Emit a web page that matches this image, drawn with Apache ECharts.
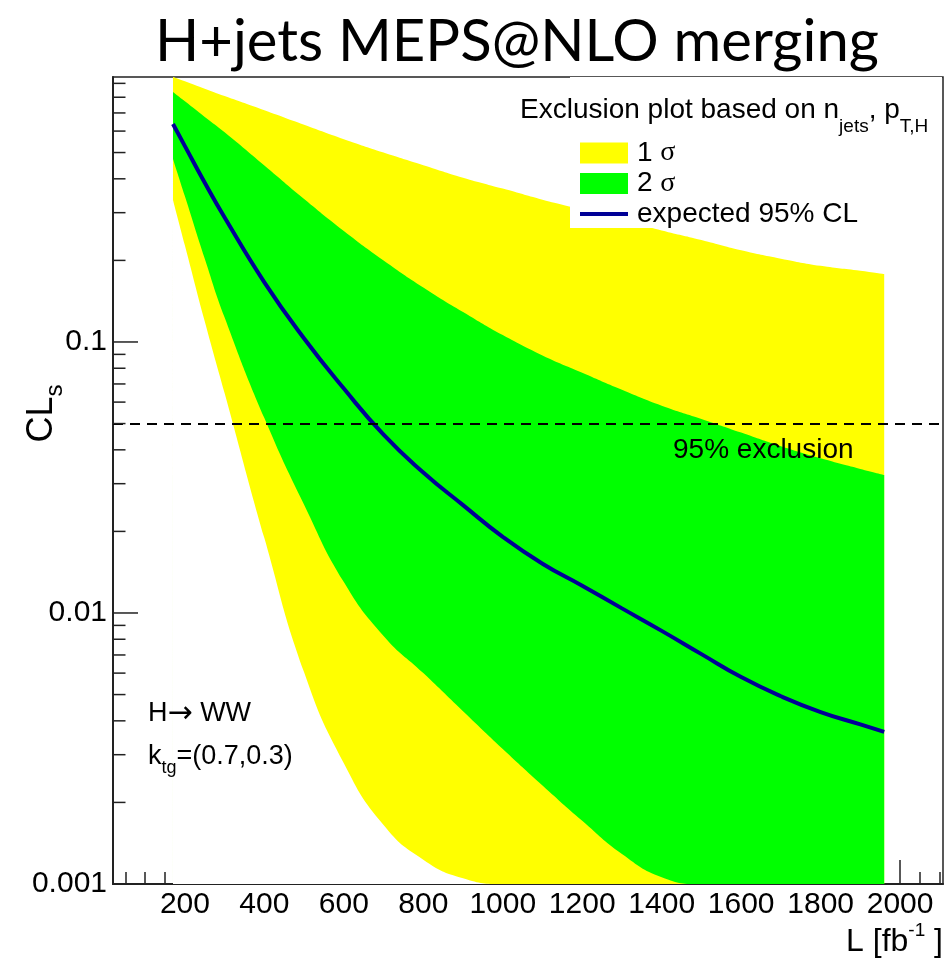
<!DOCTYPE html>
<html><head><meta charset="utf-8">
<script src="https://cdn.jsdelivr.net/npm/echarts@6/dist/echarts.min.js"></script>
<style>html,body{margin:0;padding:0;background:#fff}#c{width:948px;height:958px}</style>
</head><body><div id="c"></div>
<script>
// ---- data ----
const L_VALUES = [170, 200, 250, 300, 400, 500, 600, 700, 800, 900, 1000, 1100, 1200, 1300, 1400, 1500, 1600, 1700, 1800, 1900, 1960];
// outer band (legend "1 σ", yellow) upper edge
const OUTER_UP = [0.950, 0.916, 0.860, 0.808, 0.716, 0.633, 0.560, 0.500, 0.449, 0.404, 0.368, 0.335, 0.308, 0.282, 0.258, 0.238, 0.218, 0.203, 0.191, 0.183, 0.178];
// inner band (legend "2 σ", green) upper edge
const INNER_UP = [0.837, 0.773, 0.677, 0.594, 0.448, 0.337, 0.257, 0.200, 0.159, 0.129, 0.106, 0.0892, 0.0770, 0.0666, 0.0582, 0.0520, 0.0463, 0.0412, 0.0372, 0.0340, 0.0323];
// expected CLs
const EXPECTED_CL = [0.637, 0.528, 0.387, 0.288, 0.166, 0.103, 0.0673, 0.0455, 0.0330, 0.0250, 0.0191, 0.0152, 0.0126, 0.0104, 0.00859, 0.00705, 0.00580, 0.00493, 0.00431, 0.00388, 0.00364];
// inner band lower edge
const INNER_DOWN = [0.4735, 0.345, 0.203, 0.123, 0.0524, 0.0251, 0.0130, 0.00823, 0.00600, 0.00434, 0.00315, 0.00231, 0.00171, 0.00129, 0.00106, 0.001, 0.001, 0.001, 0.001, 0.001, 0.001];
// outer band lower edge
const OUTER_DOWN = [0.334, 0.227, 0.119, 0.0647, 0.0189, 0.00604, 0.00279, 0.00165, 0.00123, 0.00105, 0.001, 0.001, 0.001, 0.001, 0.001, 0.001, 0.001, 0.001, 0.001, 0.001, 0.001];
const EXCLUSION_LEVEL = 0.05;

const X_MIN = 19, X_MAX = 2108;
const Y_MIN = 0.001, Y_MAX = 0.95;
const X_MAJOR_TICKS = [200, 400, 600, 800, 1000, 1200, 1400, 1600, 1800, 2000];
const X_MINOR_TICKS = [50, 100, 150, 250, 300, 350, 450, 500, 550, 650, 700, 750, 850, 900, 950, 1050, 1100, 1150, 1250, 1300, 1350, 1450, 1500, 1550, 1650, 1700, 1750, 1850, 1900, 1950, 2050, 2100];
const Y_MAJOR_TICKS = [0.001, 0.01, 0.1];
const Y_MINOR_TICKS = [0.002, 0.003, 0.004, 0.005, 0.006, 0.007, 0.008, 0.009,
                       0.02, 0.03, 0.04, 0.05, 0.06, 0.07, 0.08, 0.09,
                       0.2, 0.3, 0.4, 0.5, 0.6, 0.7, 0.8, 0.9];

// ---- chart ----
const FONT = 'Liberation Sans';
const pairs = arr => L_VALUES.map((x, i) => [x, arr[i]]);
function band(name, arr, color) {
  return {
    type: 'line', name: name, data: pairs(arr), smooth: true, symbol: 'none', showSymbol: false,
    color: color, lineStyle: { width: 0, color: color }, itemStyle: { color: color },
    areaStyle: { color: color, opacity: 1, origin: 'start' }, silent: true, z: 2
  };
}

const chart = echarts.init(document.getElementById('c'), null, { renderer: 'canvas' });
const option = {
  animation: false,
  backgroundColor: '#fff',
  title: {
    text: 'H+jets MEPS@NLO merging', left: 150, top: 8,
    textStyle: { fontFamily: 'Lato', fontSize: 58, fontWeight: 'normal', color: '#000' }
  },
  grid: {
    left: 113, right: 5, top: 77, bottom: 74, containLabel: false, outerBoundsMode: 'none',
    show: true, borderColor: '#222', borderWidth: 1.5, backgroundColor: 'transparent'
  },
  legend: {
    orient: 'vertical', left: 580, top: 139, itemWidth: 48, itemHeight: 21, itemGap: 2.5, padding: 0,
    selectedMode: false, z: 10, symbolKeepAspect: true,
    data: [
      { name: '1 σ', icon: 'rect' },
      { name: '2 σ', icon: 'rect' },
      { name: 'expected 95% CL', icon: 'path://M0,0L48,0L48,4L0,4Z' }
    ],
    formatter: n => n.replace('σ', '{g|σ}'),
    textStyle: {
      fontSize: 28, fontFamily: FONT, color: '#000', padding: [0, 0, 0, 4],
      rich: { g: { fontSize: 28, fontFamily: 'Liberation Serif', color: '#000' } }
    }
  },
  xAxis: [{
    type: 'value', min: X_MIN, max: X_MAX, position: 'bottom',
    axisLine: { show: true, onZero: false, lineStyle: { color: '#222', width: 2 } },
    axisTick: { show: true, inside: true, length: 24, customValues: X_MAJOR_TICKS, lineStyle: { color: '#222', width: 1.5 } },
    axisLabel: { customValues: X_MAJOR_TICKS, formatter: v => String(v), fontSize: 30, fontFamily: FONT, color: '#000', margin: 6 },
    splitLine: { show: false },
    name: '{m|L [fb}{p|-1}{m| ]}', nameLocation: 'end', nameGap: 0, nameMoveOverlap: false,
    nameTextStyle: {
      align: 'right', verticalAlign: 'top', padding: [37, 0, 0, 0],
      rich: {
        m: { fontSize: 32, fontFamily: FONT, color: '#000', verticalAlign: 'top', padding: [5, 0, 0, 0] },
        p: { fontSize: 19, fontFamily: FONT, color: '#000', verticalAlign: 'top' }
      }
    }
  }, {
    type: 'value', min: X_MIN, max: X_MAX, position: 'bottom', offset: 0,
    axisLine: { show: false },
    axisTick: { show: true, inside: true, length: 12, customValues: X_MINOR_TICKS, lineStyle: { color: '#222', width: 1.5 } },
    axisLabel: { show: false }, splitLine: { show: false }
  }],
  yAxis: {
    type: 'log', logBase: 10, min: Y_MIN, max: Y_MAX, position: 'left',
    axisLine: { show: true, onZero: false, lineStyle: { color: '#222', width: 2 } },
    axisTick: { show: false },
    axisLabel: {
      fontSize: 30, fontFamily: FONT, color: '#000', margin: 6,
      formatter: v => { const e = Math.log10(v); return Math.abs(e - Math.round(e)) < 1e-6 ? String(+v.toPrecision(1)) : ''; }
    },
    splitLine: { show: false }, minorTick: { show: false },
    name: '{m|CL}{s|s}', nameLocation: 'middle', nameRotate: 90, nameGap: 46, nameMoveOverlap: false,
    nameTextStyle: {
      padding: [0, 0, 0, 134],
      rich: {
        m: { fontSize: 36, fontFamily: FONT, color: '#000', verticalAlign: 'top' },
        s: { fontSize: 24, fontFamily: FONT, color: '#000', verticalAlign: 'top', padding: [19, 0, 0, 0] }
      }
    }
  },
  series: [
    band('1 σ', OUTER_UP, '#ffff00'),
    band('2 σ', INNER_UP, '#00ff00'),
    band('1 σ', INNER_DOWN, '#ffff00'),
    band('below bands', OUTER_DOWN, '#ffffff'),
    {
      type: 'line', name: 'expected 95% CL', data: pairs(EXPECTED_CL), smooth: true, symbol: 'none', showSymbol: false,
      color: '#000096', lineStyle: { width: 4, color: '#000096' }, z: 3, silent: true,
      markLine: {
        silent: true, symbol: ['none', 'none'], label: { show: false },
        lineStyle: { type: [10, 7], color: '#000', width: 2 },
        data: [{ yAxis: EXCLUSION_LEVEL }]
      }
    },
    {
      type: 'custom', name: 'y ticks', coordinateSystem: 'cartesian2d', silent: true, z: 5,
      encode: { x: 0, y: 1 },
      data: Y_MAJOR_TICKS.map(v => [X_MIN, v, 1]).concat(Y_MINOR_TICKS.map(v => [X_MIN, v, 0])),
      renderItem: (params, api) => {
        const p = api.coord([api.value(0), api.value(1)]);
        const len = api.value(2) ? 25 : 12.5;
        return { type: 'line', shape: { x1: p[0], y1: p[1], x2: p[0] + len, y2: p[1] }, style: { stroke: '#222', lineWidth: 1.5 } };
      }
    }
  ],
  graphic: [
    { type: 'rect', z: 3, shape: { x: 570, y: 77, width: 372, height: 151 }, style: { fill: '#fff' }, silent: true },
    { type: 'text', z: 10, x: 520, y: 96.5, style: {
        text: '{m|Exclusion plot based on n}{s|jets}{m|, p}{s|T,H}', verticalAlign: 'top',
        rich: {
          m: { fontSize: 28, fontFamily: FONT, fill: '#000', verticalAlign: 'top' },
          s: { fontSize: 19, fontFamily: FONT, fill: '#000', verticalAlign: 'top', padding: [21, 0, 0, 0] }
        } } },
    { type: 'text', z: 10, x: 673, y: 436.5, style: { text: '95% exclusion', fontSize: 28, fontFamily: FONT, fill: '#000', verticalAlign: 'top' } },
    { type: 'text', z: 10, x: 148, y: 699, style: {
        text: '{m|H}{a|→}{m| WW}', verticalAlign: 'top',
        rich: {
          m: { fontSize: 27, fontFamily: FONT, fill: '#000', verticalAlign: 'middle' },
          a: { fontSize: 30, fontFamily: 'DejaVu Sans', fill: '#000', verticalAlign: 'middle' }
        } } },
    { type: 'text', z: 10, x: 148, y: 743, style: {
        text: '{m|k}{s|tg}{m|=(0.7,0.3)}', verticalAlign: 'top',
        rich: {
          m: { fontSize: 27, fontFamily: FONT, fill: '#000', verticalAlign: 'top' },
          s: { fontSize: 18, fontFamily: FONT, fill: '#000', verticalAlign: 'top', padding: [16, 0, 0, 0] }
        } } }
  ]
};
chart.setOption(option);
</script>
</body></html>
